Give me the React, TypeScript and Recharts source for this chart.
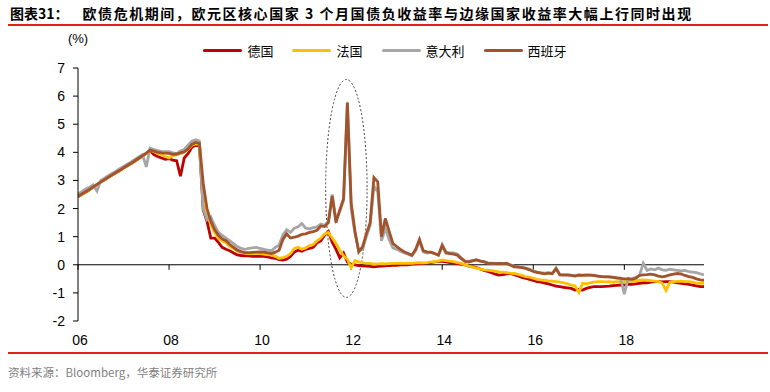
import React from 'react';
import { LineChart, Line, XAxis, YAxis, ReferenceLine, ReferenceArea } from 'recharts';

const W = 770;
const H = 392;

// monthly observations, Jan 2006 .. Oct 2019
const startYear = 2006;
const monthCount = 166;
const dates: number[] = Array.from({ length: monthCount }, (_, i) => startYear + i / 12);

const xTicks = [2006, 2008, 2010, 2012, 2014, 2016, 2018];
const xTickLabels = ['06', '08', '10', '12', '14', '16', '18'];
const yTicks = [-2, -1, 0, 1, 2, 3, 4, 5, 6, 7];

const seriesKeys = ['de', 'fr', 'it', 'es'];
const seriesNames = ['德国', '法国', '意大利', '西班牙'];
const seriesColors = ['#C00000', '#FFC000', '#A6A6A6', '#A3532B'];

const germany = [
  2.42, 2.50, 2.58, 2.67, 2.76, 2.85, 2.94, 3.02, 3.11, 3.19, 3.27, 3.35,
  3.44, 3.52, 3.60, 3.69, 3.78, 3.87, 3.96, 4.06, 3.92, 3.85, 3.80, 3.75,
  3.78, 3.72, 3.70, 3.15, 3.80, 3.95, 4.18, 4.25, 4.22, 1.95, 1.55, 0.95,
  0.95, 0.80, 0.62, 0.55, 0.50, 0.42, 0.35, 0.33, 0.32, 0.32, 0.30, 0.30,
  0.30, 0.30, 0.28, 0.25, 0.23, 0.18, 0.17, 0.20, 0.30, 0.45, 0.52, 0.48,
  0.55, 0.58, 0.62, 0.78, 0.85, 1.05, 1.18, 0.80, 0.55, 0.25, 0.42, 0.10,
  0.02, 0.00, -0.03, -0.04, -0.05, -0.06, -0.07, -0.06, -0.05, -0.04, -0.03, -0.02,
  -0.02, 0.00, 0.01, 0.00, 0.02, 0.03, 0.04, 0.05, 0.06, 0.08, 0.10, 0.12,
  0.12, 0.10, 0.08, 0.06, 0.04, 0.02, 0.00, -0.05, -0.07, -0.10, -0.15, -0.20,
  -0.24, -0.28, -0.33, -0.37, -0.35, -0.32, -0.31, -0.35, -0.40, -0.45, -0.48, -0.52,
  -0.56, -0.60, -0.62, -0.65, -0.68, -0.72, -0.76, -0.78, -0.80, -0.82, -0.84, -0.90,
  -0.88, -0.90, -0.84, -0.80, -0.78, -0.78, -0.78, -0.77, -0.76, -0.74, -0.73, -0.72,
  -0.72, -0.70, -0.70, -0.68, -0.66, -0.64, -0.64, -0.62, -0.60, -0.60, -0.61, -0.60,
  -0.60, -0.62, -0.64, -0.66, -0.68, -0.70, -0.72, -0.75, -0.78, -0.78,
];

const france = [
  2.42, 2.50, 2.58, 2.67, 2.76, 2.85, 2.94, 3.02, 3.11, 3.19, 3.27, 3.35,
  3.44, 3.52, 3.60, 3.69, 3.78, 3.87, 3.96, 4.08, 4.02, 3.96, 3.92, 3.85,
  3.80, 3.88, 3.92, 3.95, 4.00, 4.10, 4.25, 4.30, 4.28, 2.30, 1.90, 1.45,
  1.15, 0.95, 0.85, 0.78, 0.65, 0.58, 0.48, 0.44, 0.42, 0.40, 0.40, 0.41,
  0.40, 0.38, 0.36, 0.34, 0.30, 0.23, 0.25, 0.30, 0.40, 0.58, 0.62, 0.55,
  0.60, 0.68, 0.72, 0.85, 0.95, 1.10, 1.15, 0.95, 0.76, 0.52, 0.32, 0.20,
  -0.10, 0.15, 0.10, 0.08, 0.05, 0.05, 0.02, 0.03, 0.04, 0.03, 0.04, 0.05,
  0.05, 0.06, 0.05, 0.06, 0.05, 0.07, 0.08, 0.07, 0.08, 0.10, 0.11, 0.14,
  0.17, 0.15, 0.13, 0.11, 0.08, 0.05, 0.00, -0.05, -0.08, -0.12, -0.15, -0.18,
  -0.19, -0.21, -0.23, -0.25, -0.26, -0.28, -0.30, -0.31, -0.34, -0.38, -0.42, -0.44,
  -0.48, -0.52, -0.54, -0.55, -0.57, -0.58, -0.60, -0.62, -0.64, -0.68, -0.72, -0.75,
  -0.98, -0.66, -0.68, -0.64, -0.62, -0.60, -0.60, -0.61, -0.60, -0.62, -0.60, -0.60,
  -0.60, -0.58, -0.60, -0.57, -0.55, -0.54, -0.55, -0.56, -0.58, -0.60, -0.66, -0.92,
  -0.62, -0.60, -0.59, -0.58, -0.60, -0.60, -0.62, -0.65, -0.66, -0.66,
];

const italy = [
  2.52, 2.60, 2.70, 2.76, 2.84, 2.62, 3.00, 3.08, 3.17, 3.25, 3.33, 3.42,
  3.50, 3.58, 3.66, 3.75, 3.84, 3.92, 3.48, 4.15, 4.10, 4.06, 4.03, 4.02,
  4.02, 3.98, 3.95, 4.05, 4.10, 4.25, 4.40, 4.45, 4.40, 2.00, 1.60, 1.70,
  1.40, 1.15, 1.05, 0.95, 0.85, 0.75, 0.65, 0.58, 0.55, 0.58, 0.60, 0.62,
  0.58, 0.55, 0.52, 0.50, 0.62, 0.70, 1.05, 1.25, 1.15, 1.30, 1.35, 1.47,
  1.30, 1.28, 1.32, 1.35, 1.45, 1.40, 1.55, 2.50, 1.60, 1.90, 2.30, 5.80,
  2.00, 1.10, 0.50, 0.55, 1.00, 1.40, 2.80, 2.60, 0.85, 1.30, 0.90, 0.60,
  0.55, 0.48, 0.42, 0.38, 0.32, 0.50, 0.85, 0.45, 0.42, 0.44, 0.40, 0.34,
  0.72, 0.45, 0.42, 0.42, 0.38, 0.25, 0.14, 0.12, 0.16, 0.18, 0.14, 0.11,
  0.07, 0.06, 0.05, 0.05, 0.04, 0.06, 0.00, -0.05, -0.06, -0.08, -0.12, -0.16,
  -0.22, -0.26, -0.28, -0.30, -0.28, -0.30, -0.15, -0.34, -0.35, -0.35, -0.37, -0.38,
  -0.36, -0.37, -0.36, -0.37, -0.38, -0.40, -0.41, -0.42, -0.43, -0.44, -0.46, -0.47,
  -1.05, -0.48, -0.50, -0.45, -0.38, 0.05, -0.20, -0.15, -0.18, -0.12, -0.18, -0.20,
  -0.16, -0.18, -0.20, -0.22, -0.20, -0.24, -0.26, -0.28, -0.32, -0.36,
];

const spain = [
  2.44, 2.52, 2.60, 2.68, 2.77, 2.86, 2.95, 3.03, 3.12, 3.20, 3.28, 3.36,
  3.45, 3.53, 3.61, 3.70, 3.79, 3.88, 3.97, 4.08, 4.04, 4.00, 3.98, 3.97,
  3.96, 3.93, 3.94, 3.98, 4.02, 4.12, 4.28, 4.35, 4.32, 2.90, 2.00, 1.55,
  1.25, 1.05, 0.92, 0.86, 0.72, 0.62, 0.52, 0.47, 0.43, 0.43, 0.44, 0.45,
  0.46, 0.45, 0.42, 0.40, 0.45, 0.52, 0.90, 1.10, 0.95, 0.98, 1.02, 1.08,
  1.10, 1.15, 1.18, 1.23, 1.38, 1.36, 1.50, 2.45, 1.50, 1.95, 2.35, 5.75,
  2.20, 1.20, 0.46, 0.64, 1.10, 1.50, 3.10, 2.95, 1.00, 1.65, 1.20, 0.76,
  0.65, 0.55, 0.46, 0.40, 0.34, 0.55, 0.90, 0.50, 0.46, 0.45, 0.40, 0.34,
  0.68, 0.42, 0.40, 0.38, 0.34, 0.22, 0.12, 0.10, 0.14, 0.17, 0.13, 0.10,
  0.06, 0.05, 0.04, 0.05, 0.04, 0.05, -0.02, -0.07, -0.08, -0.10, -0.13, -0.18,
  -0.24, -0.27, -0.30, -0.32, -0.30, -0.32, -0.13, -0.36, -0.37, -0.37, -0.38, -0.40,
  -0.37, -0.38, -0.37, -0.37, -0.38, -0.40, -0.42, -0.43, -0.43, -0.45, -0.47, -0.48,
  -0.50, -0.50, -0.52, -0.48, -0.38, -0.36, -0.35, -0.33, -0.36, -0.40, -0.43, -0.40,
  -0.36, -0.33, -0.31, -0.33, -0.38, -0.42, -0.45, -0.50, -0.54, -0.55,
];

const seriesValues = [germany, france, italy, spain];

// dotted ellipse marking the crisis spike (data coordinates)
const highlightX = [2011.44, 2012.35];
const highlightY = [-1.16, 6.59];

const titleLabel = '图表31：';
const titleText = '欧债危机期间，欧元区核心国家 3 个月国债负收益率与边缘国家收益率大幅上行同时出现';
const unitLabel = '(%)';
const sourceText = '资料来源：Bloomberg，华泰证券研究所';

const rows = dates.map((t, i) => {
  const r: Record<string, number> = { t };
  seriesKeys.forEach((k, j) => {
    r[k] = seriesValues[j][i];
  });
  return r;
});

const AXIS_FONT = '"Liberation Sans", Arial, sans-serif';
const CJK_FONT = '"Noto Sans CJK SC", "Liberation Sans", sans-serif';
const RED = '#E3201B';

const XTick = (props: any) => {
  const { x, y, payload } = props;
  const idx = xTicks.indexOf(payload.value);
  return (
    <text x={x + 2} y={y} dy={24} textAnchor="middle" fontSize={14} fill="#000" fontFamily={AXIS_FONT}>
      {idx >= 0 ? xTickLabels[idx] : ''}
    </text>
  );
};

const EllipseShape = (p: any) => {
  const { x, y, width, height } = p;
  return (
    <ellipse
      cx={x + width / 2}
      cy={y + height / 2}
      rx={Math.abs(width) / 2}
      ry={Math.abs(height) / 2}
      fill="none"
      stroke="#404040"
      strokeWidth={1}
      strokeDasharray="2 2"
    />
  );
};

export default function App() {
  return (
    <div style={{ position: 'absolute', left: 0, top: 0, width: W, height: H, background: '#fff', overflow: 'hidden' }}>
      {/* title */}
      <div
        style={{
          position: 'absolute',
          left: 10,
          top: 4,
          fontFamily: CJK_FONT,
          fontWeight: 700,
          fontSize: 14,
          lineHeight: '18px',
          whiteSpace: 'nowrap',
          color: '#000',
        }}
      >
        <span>{titleLabel}</span>
        <span style={{ marginLeft: 14, letterSpacing: 1.55 }}>{titleText}</span>
      </div>
      <div style={{ position: 'absolute', left: 8, top: 24, width: 760, height: 2, background: RED }} />

      {/* unit */}
      <div
        style={{
          position: 'absolute',
          left: 58,
          top: 31,
          width: 40,
          textAlign: 'center',
          fontFamily: AXIS_FONT,
          fontSize: 13,
          color: '#000',
        }}
      >
        {unitLabel}
      </div>

      {/* legend */}
      <div
        style={{
          position: 'absolute',
          left: 0,
          top: 42,
          width: W,
          display: 'flex',
          justifyContent: 'center',
          gap: 19,
          fontFamily: CJK_FONT,
          fontSize: 13,
          lineHeight: '17px',
        }}
      >
        {seriesNames.map((n, i) => (
          <div key={n} style={{ display: 'flex', alignItems: 'center' }}>
            <div style={{ width: 39, height: 3, borderRadius: 2, background: seriesColors[i], marginRight: 5 }} />
            <span style={{ color: '#000' }}>{n}</span>
          </div>
        ))}
      </div>

      <div style={{ position: 'absolute', left: 0, top: 0 }}>
        <LineChart width={W} height={H} data={rows} margin={{ top: 68, right: 66, left: 38, bottom: 41 }}>
          <XAxis
            dataKey="t"
            type="number"
            domain={[2006, 2019.75]}
            allowDataOverflow
            ticks={xTicks}
            axisLine={false}
            tickLine={false}
            tickSize={0}
            tickMargin={0}
            height={30}
            tick={<XTick />}
            interval={0}
          />
          <YAxis
            type="number"
            domain={[-2, 7]}
            ticks={yTicks}
            interval={0}
            width={40}
            axisLine={{ stroke: '#000', strokeWidth: 1 }}
            tickLine={{ stroke: '#000', strokeWidth: 1 }}
            tickSize={5}
            tickMargin={8}
            tick={{ fontSize: 14, fill: '#000', fontFamily: AXIS_FONT }}
          />
          <ReferenceLine y={0} stroke="#000" strokeWidth={1} />
          {xTicks.map((yr) => (
            <ReferenceLine
              key={'tk' + yr}
              segment={[
                { x: yr, y: 0 },
                { x: yr, y: -0.18 },
              ]}
              stroke="#000"
              strokeWidth={1}
            />
          ))}
          {seriesKeys.map((k, i) => (
            <Line
              key={k}
              type="linear"
              dataKey={k}
              name={seriesNames[i]}
              stroke={seriesColors[i]}
              strokeWidth={2.8}
              dot={false}
              activeDot={false}
              isAnimationActive={false}
            />
          ))}
          <ReferenceArea
            x1={highlightX[0]}
            x2={highlightX[1]}
            y1={highlightY[0]}
            y2={highlightY[1]}
            shape={EllipseShape}
            ifOverflow="visible"
          />
        </LineChart>
      </div>

      {/* bottom rule and source */}
      <div style={{ position: 'absolute', left: 8, top: 352, width: 760, height: 2, background: RED }} />
      <div
        style={{
          position: 'absolute',
          left: 8,
          top: 364,
          fontFamily: CJK_FONT,
          fontSize: 11.5,
          lineHeight: '16px',
          color: '#7F7F7F',
          whiteSpace: 'nowrap',
        }}
      >
        {sourceText}
      </div>
    </div>
  );
}
